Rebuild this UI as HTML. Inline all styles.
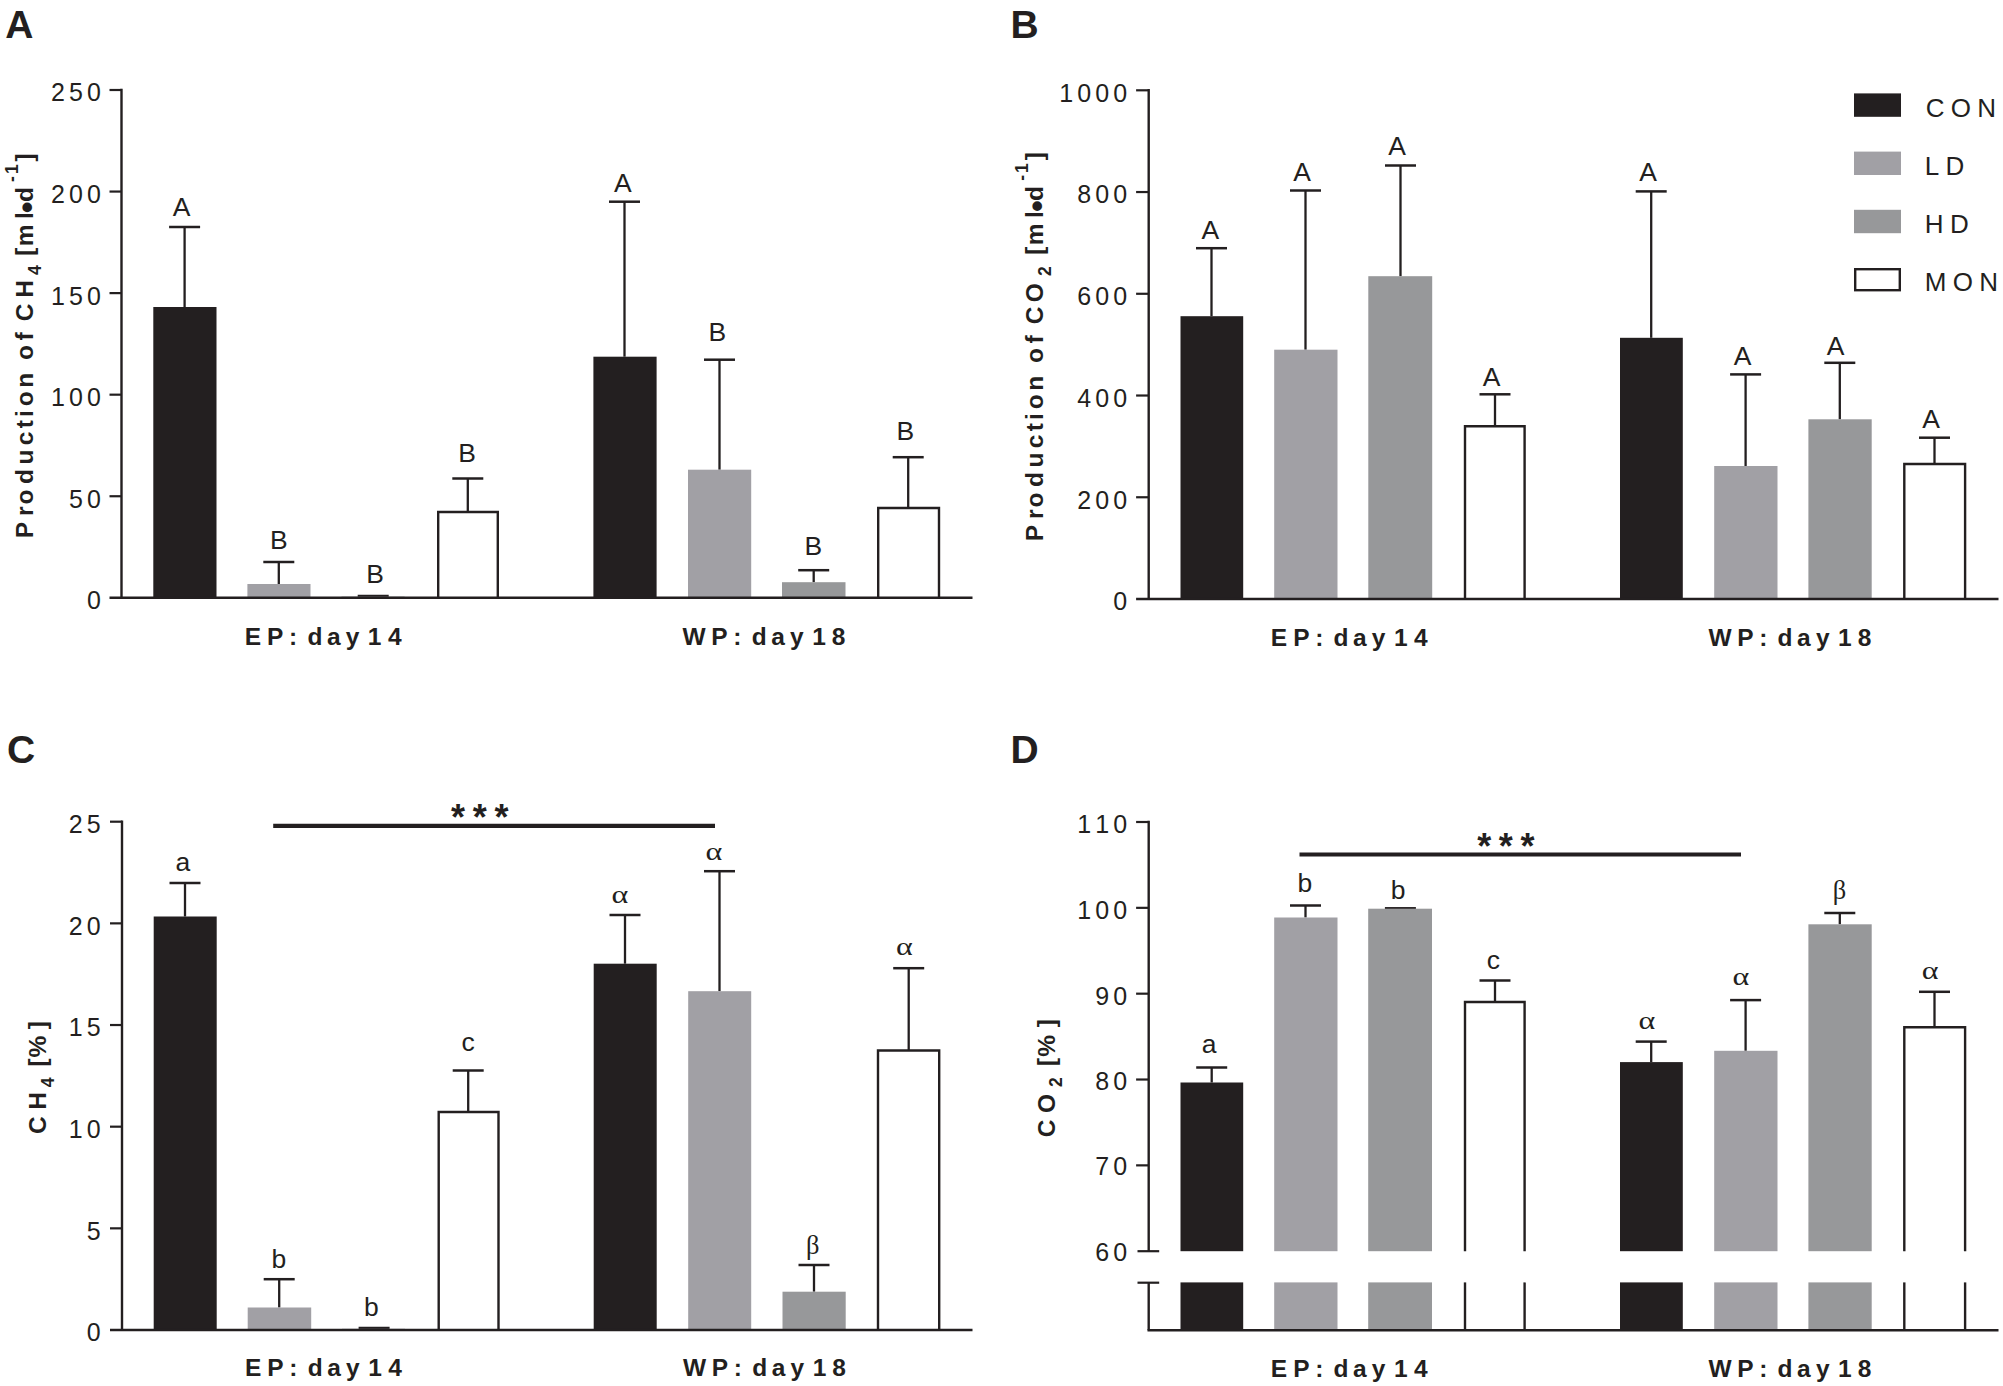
<!DOCTYPE html>
<html lang="en">
<head>
<meta charset="utf-8">
<title>Gas production and composition</title>
<style>
html,body{margin:0;padding:0;background:#fff}
body{width:2003px;height:1386px;overflow:hidden}
svg{display:block;font-family:"Liberation Sans",sans-serif;font-kerning:none}
</style>
</head>
<body>
<svg width="2003" height="1386" viewBox="0 0 2003 1386" fill="#231f20" stroke="#231f20" stroke-linecap="butt">
<rect stroke="none" x="0" y="0" width="2003" height="1386" fill="#fff"/>
<g>
<line x1="184.60" y1="227.00" x2="184.60" y2="307.00" stroke-width="2.3"/>
<line x1="169.10" y1="227.00" x2="200.10" y2="227.00" stroke-width="2.5"/>
<rect stroke="none" x="153.30" y="307.00" width="63.20" height="290.80" fill="#231f20"/>
<line x1="278.80" y1="562.00" x2="278.80" y2="584.00" stroke-width="2.3"/>
<line x1="263.30" y1="562.00" x2="294.30" y2="562.00" stroke-width="2.5"/>
<rect stroke="none" x="247.40" y="584.00" width="63.10" height="13.80" fill="#a1a0a5"/>
<line x1="373.20" y1="596.00" x2="373.20" y2="596.60" stroke-width="2.3"/>
<line x1="357.70" y1="596.00" x2="388.70" y2="596.00" stroke-width="2.5"/>
<rect stroke="none" x="341.50" y="596.60" width="63.10" height="1.20" fill="#97989a"/>
<line x1="467.80" y1="478.50" x2="467.80" y2="512.00" stroke-width="2.3"/>
<line x1="452.30" y1="478.50" x2="483.30" y2="478.50" stroke-width="2.5"/>
<path d="M438.20 597.80V512.00H497.80V597.80" fill="#fff" stroke-width="2.4"/>
<line x1="624.50" y1="201.70" x2="624.50" y2="356.70" stroke-width="2.3"/>
<line x1="609.00" y1="201.70" x2="640.00" y2="201.70" stroke-width="2.5"/>
<rect stroke="none" x="593.40" y="356.70" width="63.20" height="241.10" fill="#231f20"/>
<line x1="719.50" y1="359.70" x2="719.50" y2="469.70" stroke-width="2.3"/>
<line x1="704.00" y1="359.70" x2="735.00" y2="359.70" stroke-width="2.5"/>
<rect stroke="none" x="688.00" y="469.70" width="63.20" height="128.10" fill="#a1a0a5"/>
<line x1="813.70" y1="570.20" x2="813.70" y2="582.20" stroke-width="2.3"/>
<line x1="798.20" y1="570.20" x2="829.20" y2="570.20" stroke-width="2.5"/>
<rect stroke="none" x="782.00" y="582.20" width="63.50" height="15.60" fill="#97989a"/>
<line x1="908.20" y1="457.20" x2="908.20" y2="508.00" stroke-width="2.3"/>
<line x1="892.70" y1="457.20" x2="923.70" y2="457.20" stroke-width="2.5"/>
<path d="M878.20 597.80V508.00H939.00V597.80" fill="#fff" stroke-width="2.4"/>
<line x1="121.50" y1="88.80" x2="121.50" y2="597.80" stroke-width="2.4"/>
<line x1="109.50" y1="597.80" x2="972.50" y2="597.80" stroke-width="2.6"/>
<line x1="109.50" y1="90.00" x2="121.50" y2="90.00" stroke-width="2.1999999999999997"/>
<line x1="109.50" y1="191.56" x2="121.50" y2="191.56" stroke-width="2.1999999999999997"/>
<line x1="109.50" y1="293.12" x2="121.50" y2="293.12" stroke-width="2.1999999999999997"/>
<line x1="109.50" y1="394.68" x2="121.50" y2="394.68" stroke-width="2.1999999999999997"/>
<line x1="109.50" y1="496.24" x2="121.50" y2="496.24" stroke-width="2.1999999999999997"/>
<text stroke="none" x="51.07" y="101.40" font-size="25" letter-spacing="4.10">250</text>
<text stroke="none" x="51.07" y="202.96" font-size="25" letter-spacing="4.10">200</text>
<text stroke="none" x="51.07" y="304.52" font-size="25" letter-spacing="4.10">150</text>
<text stroke="none" x="51.07" y="406.08" font-size="25" letter-spacing="4.10">100</text>
<text stroke="none" x="69.07" y="507.64" font-size="25" letter-spacing="4.10">50</text>
<text stroke="none" x="87.08" y="609.20" font-size="25">0</text>
<text stroke="none" x="172.76" y="215.80" font-size="26.5">A</text>
<text stroke="none" x="270.08" y="548.50" font-size="26.5">B</text>
<text stroke="none" x="366.18" y="582.70" font-size="26.5">B</text>
<text stroke="none" x="458.28" y="462.00" font-size="26.5">B</text>
<text stroke="none" x="614.06" y="192.30" font-size="26.5">A</text>
<text stroke="none" x="708.48" y="341.00" font-size="26.5">B</text>
<text stroke="none" x="804.58" y="554.70" font-size="26.5">B</text>
<text stroke="none" x="896.58" y="439.70" font-size="26.5">B</text>
<text stroke="none" x="244.76 267.06 289.05 300.48 307.40 326.89 345.70 359.87 367.86 387.93" y="645.20" font-size="24.5" font-weight="700">EP: day 14</text>
<text stroke="none" x="682.48 711.36 733.35 744.78 751.70 771.19 790.00 804.17 812.16 831.82" y="645.20" font-size="24.5" font-weight="700">WP: day 18</text>
<text stroke="none" x="5.32" y="37.50" font-size="39" font-weight="700">A</text>
<g transform="translate(33.00 536.70) rotate(-90)">
<text stroke="none" x="-1.64 20.68 32.24 52.60 72.08 91.54 108.41 119.69 130.54 148.88 163.72 176.74 196.28 207.71 215.40 238.86" y="0.00" font-size="24.5" font-weight="700">Production of CH</text>
<text stroke="none" x="261.64" y="7.60" font-size="17.5" font-weight="700">4</text>
<text stroke="none" x="280.93 290.38 317.69" y="0.00" font-size="24.5" font-weight="700">[ml</text>
<text stroke="none" x="323.53" y="4.50" font-size="33.5" font-weight="700">•</text>
<text stroke="none" x="334.70" y="0.00" font-size="24.5" font-weight="700">d</text>
<text stroke="none" x="354.82 362.70" y="-15.20" font-size="17.5" font-weight="700">-1</text>
<text stroke="none" x="375.31" y="0.00" font-size="24.5" font-weight="700">]</text>
</g>
<line x1="1211.50" y1="248.20" x2="1211.50" y2="316.20" stroke-width="2.3"/>
<line x1="1196.00" y1="248.20" x2="1227.00" y2="248.20" stroke-width="2.5"/>
<rect stroke="none" x="1180.50" y="316.20" width="62.70" height="282.80" fill="#231f20"/>
<line x1="1305.50" y1="190.50" x2="1305.50" y2="349.70" stroke-width="2.3"/>
<line x1="1290.00" y1="190.50" x2="1321.00" y2="190.50" stroke-width="2.5"/>
<rect stroke="none" x="1274.20" y="349.70" width="63.30" height="249.30" fill="#a1a0a5"/>
<line x1="1400.50" y1="165.50" x2="1400.50" y2="276.20" stroke-width="2.3"/>
<line x1="1385.00" y1="165.50" x2="1416.00" y2="165.50" stroke-width="2.5"/>
<rect stroke="none" x="1368.30" y="276.20" width="63.90" height="322.80" fill="#97989a"/>
<line x1="1495.00" y1="394.30" x2="1495.00" y2="426.20" stroke-width="2.3"/>
<line x1="1479.50" y1="394.30" x2="1510.50" y2="394.30" stroke-width="2.5"/>
<path d="M1465.00 599.00V426.20H1524.60V599.00" fill="#fff" stroke-width="2.4"/>
<line x1="1651.20" y1="191.40" x2="1651.20" y2="337.80" stroke-width="2.3"/>
<line x1="1635.70" y1="191.40" x2="1666.70" y2="191.40" stroke-width="2.5"/>
<rect stroke="none" x="1620.00" y="337.80" width="62.80" height="261.20" fill="#231f20"/>
<line x1="1745.60" y1="374.40" x2="1745.60" y2="466.00" stroke-width="2.3"/>
<line x1="1730.10" y1="374.40" x2="1761.10" y2="374.40" stroke-width="2.5"/>
<rect stroke="none" x="1714.20" y="466.00" width="63.30" height="133.00" fill="#a1a0a5"/>
<line x1="1839.80" y1="362.80" x2="1839.80" y2="419.30" stroke-width="2.3"/>
<line x1="1824.30" y1="362.80" x2="1855.30" y2="362.80" stroke-width="2.5"/>
<rect stroke="none" x="1808.40" y="419.30" width="63.30" height="179.70" fill="#97989a"/>
<line x1="1934.50" y1="437.70" x2="1934.50" y2="464.00" stroke-width="2.3"/>
<line x1="1919.00" y1="437.70" x2="1950.00" y2="437.70" stroke-width="2.5"/>
<path d="M1904.30 599.00V464.00H1965.10V599.00" fill="#fff" stroke-width="2.4"/>
<line x1="1148.70" y1="89.10" x2="1148.70" y2="599.00" stroke-width="2.4"/>
<line x1="1136.10" y1="599.00" x2="1998.50" y2="599.00" stroke-width="2.6"/>
<line x1="1136.10" y1="90.30" x2="1148.70" y2="90.30" stroke-width="2.1999999999999997"/>
<line x1="1136.10" y1="192.04" x2="1148.70" y2="192.04" stroke-width="2.1999999999999997"/>
<line x1="1136.10" y1="293.78" x2="1148.70" y2="293.78" stroke-width="2.1999999999999997"/>
<line x1="1136.10" y1="395.52" x2="1148.70" y2="395.52" stroke-width="2.1999999999999997"/>
<line x1="1136.10" y1="497.26" x2="1148.70" y2="497.26" stroke-width="2.1999999999999997"/>
<text stroke="none" x="1059.26" y="101.70" font-size="25" letter-spacing="4.10">1000</text>
<text stroke="none" x="1077.27" y="203.44" font-size="25" letter-spacing="4.10">800</text>
<text stroke="none" x="1077.27" y="305.18" font-size="25" letter-spacing="4.10">600</text>
<text stroke="none" x="1077.27" y="406.92" font-size="25" letter-spacing="4.10">400</text>
<text stroke="none" x="1077.27" y="508.66" font-size="25" letter-spacing="4.10">200</text>
<text stroke="none" x="1113.28" y="610.40" font-size="25">0</text>
<text stroke="none" x="1201.46" y="238.70" font-size="26.5">A</text>
<text stroke="none" x="1293.36" y="180.70" font-size="26.5">A</text>
<text stroke="none" x="1388.36" y="154.50" font-size="26.5">A</text>
<text stroke="none" x="1482.66" y="386.00" font-size="26.5">A</text>
<text stroke="none" x="1639.16" y="180.80" font-size="26.5">A</text>
<text stroke="none" x="1733.86" y="364.80" font-size="26.5">A</text>
<text stroke="none" x="1826.76" y="354.80" font-size="26.5">A</text>
<text stroke="none" x="1922.16" y="428.40" font-size="26.5">A</text>
<text stroke="none" x="1270.86 1293.16 1315.15 1326.58 1333.50 1352.99 1371.80 1385.97 1393.96 1414.03" y="646.30" font-size="24.5" font-weight="700">EP: day 14</text>
<text stroke="none" x="1708.38 1737.26 1759.25 1770.68 1777.60 1797.09 1815.90 1830.07 1838.06 1857.72" y="645.80" font-size="24.5" font-weight="700">WP: day 18</text>
<text stroke="none" x="1010.39" y="37.50" font-size="39" font-weight="700">B</text>
<g transform="translate(1043.30 539.70) rotate(-90)">
<text stroke="none" x="-1.64 20.68 32.24 52.60 72.08 91.54 108.41 119.69 130.54 148.88 163.72 176.74 196.28 207.71 215.40 237.50" y="0.00" font-size="24.5" font-weight="700">Production of CO</text>
<text stroke="none" x="263.79" y="7.60" font-size="17.5" font-weight="700">2</text>
<text stroke="none" x="285.03 294.48 321.79" y="0.00" font-size="24.5" font-weight="700">[ml</text>
<text stroke="none" x="327.63" y="4.50" font-size="33.5" font-weight="700">•</text>
<text stroke="none" x="338.80" y="0.00" font-size="24.5" font-weight="700">d</text>
<text stroke="none" x="358.92 366.80" y="-15.20" font-size="17.5" font-weight="700">-1</text>
<text stroke="none" x="379.41" y="0.00" font-size="24.5" font-weight="700">]</text>
</g>
<rect stroke="none" x="1854.00" y="93.40" width="47.00" height="23.40" fill="#231f20"/>
<text stroke="none" x="1925.67" y="116.70" font-size="26" letter-spacing="6.30">CON</text>
<rect stroke="none" x="1854.00" y="151.60" width="47.00" height="23.40" fill="#a1a0a5"/>
<text stroke="none" x="1924.87" y="174.90" font-size="26" letter-spacing="6.30">LD</text>
<rect stroke="none" x="1854.00" y="209.80" width="47.00" height="23.40" fill="#97989a"/>
<text stroke="none" x="1924.87" y="233.10" font-size="26" letter-spacing="6.30">HD</text>
<rect x="1855.2" y="269.20" width="44.6" height="21" fill="#fff" stroke-width="2.4"/>
<text stroke="none" x="1924.87" y="291.30" font-size="26" letter-spacing="6.30">MON</text>
<line x1="185.00" y1="883.00" x2="185.00" y2="916.50" stroke-width="2.3"/>
<line x1="169.50" y1="883.00" x2="200.50" y2="883.00" stroke-width="2.5"/>
<rect stroke="none" x="153.70" y="916.50" width="63.00" height="413.50" fill="#231f20"/>
<line x1="279.20" y1="1279.20" x2="279.20" y2="1307.50" stroke-width="2.3"/>
<line x1="263.70" y1="1279.20" x2="294.70" y2="1279.20" stroke-width="2.5"/>
<rect stroke="none" x="247.70" y="1307.50" width="63.50" height="22.50" fill="#a1a0a5"/>
<line x1="374.10" y1="1328.00" x2="374.10" y2="1328.80" stroke-width="2.3"/>
<line x1="358.60" y1="1328.00" x2="389.60" y2="1328.00" stroke-width="2.5"/>
<rect stroke="none" x="342.00" y="1328.80" width="63.00" height="1.20" fill="#97989a"/>
<line x1="468.20" y1="1070.50" x2="468.20" y2="1112.00" stroke-width="2.3"/>
<line x1="452.70" y1="1070.50" x2="483.70" y2="1070.50" stroke-width="2.5"/>
<path d="M438.70 1330.00V1112.00H498.50V1330.00" fill="#fff" stroke-width="2.4"/>
<line x1="625.00" y1="915.00" x2="625.00" y2="963.70" stroke-width="2.3"/>
<line x1="609.50" y1="915.00" x2="640.50" y2="915.00" stroke-width="2.5"/>
<rect stroke="none" x="593.70" y="963.70" width="63.00" height="366.30" fill="#231f20"/>
<line x1="719.50" y1="871.20" x2="719.50" y2="991.20" stroke-width="2.3"/>
<line x1="704.00" y1="871.20" x2="735.00" y2="871.20" stroke-width="2.5"/>
<rect stroke="none" x="688.20" y="991.20" width="63.00" height="338.80" fill="#a1a0a5"/>
<line x1="814.00" y1="1265.00" x2="814.00" y2="1291.70" stroke-width="2.3"/>
<line x1="798.50" y1="1265.00" x2="829.50" y2="1265.00" stroke-width="2.5"/>
<rect stroke="none" x="782.50" y="1291.70" width="63.20" height="38.30" fill="#97989a"/>
<line x1="908.70" y1="968.20" x2="908.70" y2="1050.50" stroke-width="2.3"/>
<line x1="893.20" y1="968.20" x2="924.20" y2="968.20" stroke-width="2.5"/>
<path d="M878.00 1330.00V1050.50H939.20V1330.00" fill="#fff" stroke-width="2.4"/>
<line x1="122.00" y1="820.50" x2="122.00" y2="1330.00" stroke-width="2.4"/>
<line x1="110.00" y1="1330.00" x2="972.50" y2="1330.00" stroke-width="2.6"/>
<line x1="110.00" y1="821.70" x2="122.00" y2="821.70" stroke-width="2.1999999999999997"/>
<line x1="110.00" y1="923.36" x2="122.00" y2="923.36" stroke-width="2.1999999999999997"/>
<line x1="110.00" y1="1025.02" x2="122.00" y2="1025.02" stroke-width="2.1999999999999997"/>
<line x1="110.00" y1="1126.68" x2="122.00" y2="1126.68" stroke-width="2.1999999999999997"/>
<line x1="110.00" y1="1228.34" x2="122.00" y2="1228.34" stroke-width="2.1999999999999997"/>
<text stroke="none" x="68.85" y="833.10" font-size="25" letter-spacing="4.10">25</text>
<text stroke="none" x="68.77" y="934.76" font-size="25" letter-spacing="4.10">20</text>
<text stroke="none" x="68.85" y="1036.42" font-size="25" letter-spacing="4.10">15</text>
<text stroke="none" x="68.77" y="1138.08" font-size="25" letter-spacing="4.10">10</text>
<text stroke="none" x="86.85" y="1239.74" font-size="25">5</text>
<text stroke="none" x="86.78" y="1341.40" font-size="25">0</text>
<text stroke="none" x="175.58" y="870.50" font-size="26.5">a</text>
<text stroke="none" x="271.44" y="1268.00" font-size="26.5">b</text>
<text stroke="none" x="363.94" y="1315.70" font-size="26.5">b</text>
<text stroke="none" x="461.46" y="1051.00" font-size="26.5">c</text>
<text stroke="none" transform="translate(620.20 903.00) scale(1.28 1.0)" x="-6.74" y="0" font-size="25" font-family="Liberation Serif, serif">α</text>
<text stroke="none" transform="translate(714.20 860.00) scale(1.28 1.0)" x="-6.74" y="0" font-size="25" font-family="Liberation Serif, serif">α</text>
<text stroke="none" transform="translate(813.10 1254.40) scale(1.06 1.09)" x="-6.62" y="0" font-size="25" font-family="Liberation Serif, serif">β</text>
<text stroke="none" transform="translate(904.70 955.00) scale(1.28 1.0)" x="-6.74" y="0" font-size="25" font-family="Liberation Serif, serif">α</text>
<line x1="273.20" y1="825.80" x2="715.00" y2="825.80" stroke-width="4.2"/>
<text stroke="none" x="450.89" y="830.37" font-size="36" font-weight="700" letter-spacing="7.76">***</text>
<text stroke="none" x="245.06 267.36 289.35 300.78 307.70 327.19 346.00 360.17 368.16 388.23" y="1376.00" font-size="24.5" font-weight="700">EP: day 14</text>
<text stroke="none" x="682.98 711.86 733.85 745.28 752.20 771.69 790.50 804.67 812.66 832.32" y="1375.80" font-size="24.5" font-weight="700">WP: day 18</text>
<text stroke="none" x="7.10" y="763.00" font-size="39" font-weight="700">C</text>
<g transform="translate(46.00 1132.90) rotate(-90)">
<text stroke="none" x="-1.00 23.06" y="0.00" font-size="24.5" font-weight="700">CH</text>
<text stroke="none" x="45.74" y="7.80" font-size="17.5" font-weight="700">4</text>
<text stroke="none" x="66.33 75.49 103.61" y="0.00" font-size="24.5" font-weight="700">[%]</text>
</g>
<line x1="1211.70" y1="1067.50" x2="1211.70" y2="1082.50" stroke-width="2.3"/>
<line x1="1196.20" y1="1067.50" x2="1227.20" y2="1067.50" stroke-width="2.5"/>
<rect stroke="none" x="1180.50" y="1082.50" width="62.70" height="168.70" fill="#231f20"/>
<rect stroke="none" x="1180.50" y="1282.40" width="62.70" height="47.90" fill="#231f20"/>
<line x1="1305.50" y1="905.50" x2="1305.50" y2="917.50" stroke-width="2.3"/>
<line x1="1290.00" y1="905.50" x2="1321.00" y2="905.50" stroke-width="2.5"/>
<rect stroke="none" x="1274.20" y="917.50" width="63.30" height="333.70" fill="#a1a0a5"/>
<rect stroke="none" x="1274.20" y="1282.40" width="63.30" height="47.90" fill="#a1a0a5"/>
<line x1="1400.40" y1="908.30" x2="1400.40" y2="908.70" stroke-width="2.3"/>
<line x1="1384.90" y1="908.30" x2="1415.90" y2="908.30" stroke-width="2.5"/>
<rect stroke="none" x="1368.20" y="908.70" width="63.80" height="342.50" fill="#97989a"/>
<rect stroke="none" x="1368.20" y="1282.40" width="63.80" height="47.90" fill="#97989a"/>
<line x1="1495.00" y1="980.50" x2="1495.00" y2="1002.00" stroke-width="2.3"/>
<line x1="1479.50" y1="980.50" x2="1510.50" y2="980.50" stroke-width="2.5"/>
<path d="M1465.00 1251.20V1002.00H1524.60V1251.20" fill="#fff" stroke-width="2.4"/>
<line x1="1465.00" y1="1282.40" x2="1465.00" y2="1330.30" stroke-width="2.4"/>
<line x1="1524.60" y1="1282.40" x2="1524.60" y2="1330.30" stroke-width="2.4"/>
<line x1="1651.20" y1="1041.60" x2="1651.20" y2="1062.10" stroke-width="2.3"/>
<line x1="1635.70" y1="1041.60" x2="1666.70" y2="1041.60" stroke-width="2.5"/>
<rect stroke="none" x="1620.00" y="1062.10" width="62.80" height="189.10" fill="#231f20"/>
<rect stroke="none" x="1620.00" y="1282.40" width="62.80" height="47.90" fill="#231f20"/>
<line x1="1745.60" y1="1000.10" x2="1745.60" y2="1050.80" stroke-width="2.3"/>
<line x1="1730.10" y1="1000.10" x2="1761.10" y2="1000.10" stroke-width="2.5"/>
<rect stroke="none" x="1714.20" y="1050.80" width="63.30" height="200.40" fill="#a1a0a5"/>
<rect stroke="none" x="1714.20" y="1282.40" width="63.30" height="47.90" fill="#a1a0a5"/>
<line x1="1839.80" y1="913.00" x2="1839.80" y2="924.30" stroke-width="2.3"/>
<line x1="1824.30" y1="913.00" x2="1855.30" y2="913.00" stroke-width="2.5"/>
<rect stroke="none" x="1808.40" y="924.30" width="63.30" height="326.90" fill="#97989a"/>
<rect stroke="none" x="1808.40" y="1282.40" width="63.30" height="47.90" fill="#97989a"/>
<line x1="1934.50" y1="991.80" x2="1934.50" y2="1027.20" stroke-width="2.3"/>
<line x1="1919.00" y1="991.80" x2="1950.00" y2="991.80" stroke-width="2.5"/>
<path d="M1904.30 1251.20V1027.20H1965.10V1251.20" fill="#fff" stroke-width="2.4"/>
<line x1="1904.30" y1="1282.40" x2="1904.30" y2="1330.30" stroke-width="2.4"/>
<line x1="1965.10" y1="1282.40" x2="1965.10" y2="1330.30" stroke-width="2.4"/>
<line x1="1148.70" y1="820.80" x2="1148.70" y2="1251.20" stroke-width="2.4"/>
<line x1="1148.70" y1="1282.70" x2="1148.70" y2="1330.30" stroke-width="2.4"/>
<line x1="1137.50" y1="1251.20" x2="1159.20" y2="1251.20" stroke-width="2.1999999999999997"/>
<line x1="1137.50" y1="1282.70" x2="1159.20" y2="1282.70" stroke-width="2.1999999999999997"/>
<line x1="1147.50" y1="1330.30" x2="1998.50" y2="1330.30" stroke-width="2.6"/>
<line x1="1136.10" y1="822.00" x2="1148.70" y2="822.00" stroke-width="2.1999999999999997"/>
<line x1="1136.10" y1="907.84" x2="1148.70" y2="907.84" stroke-width="2.1999999999999997"/>
<line x1="1136.10" y1="993.68" x2="1148.70" y2="993.68" stroke-width="2.1999999999999997"/>
<line x1="1136.10" y1="1079.52" x2="1148.70" y2="1079.52" stroke-width="2.1999999999999997"/>
<line x1="1136.10" y1="1165.36" x2="1148.70" y2="1165.36" stroke-width="2.1999999999999997"/>
<text stroke="none" x="1077.27" y="833.40" font-size="25" letter-spacing="4.10">110</text>
<text stroke="none" x="1077.27" y="919.24" font-size="25" letter-spacing="4.10">100</text>
<text stroke="none" x="1095.27" y="1005.08" font-size="25" letter-spacing="4.10">90</text>
<text stroke="none" x="1095.27" y="1090.02" font-size="25" letter-spacing="4.10">80</text>
<text stroke="none" x="1095.27" y="1175.46" font-size="25" letter-spacing="4.10">70</text>
<text stroke="none" x="1095.27" y="1260.80" font-size="25" letter-spacing="4.10">60</text>
<text stroke="none" x="1201.68" y="1053.00" font-size="26.5">a</text>
<text stroke="none" x="1297.54" y="892.00" font-size="26.5">b</text>
<text stroke="none" x="1390.84" y="898.70" font-size="26.5">b</text>
<text stroke="none" x="1486.66" y="968.70" font-size="26.5">c</text>
<text stroke="none" transform="translate(1647.20 1029.00) scale(1.28 1.0)" x="-6.74" y="0" font-size="25" font-family="Liberation Serif, serif">α</text>
<text stroke="none" transform="translate(1741.20 985.00) scale(1.28 1.0)" x="-6.74" y="0" font-size="25" font-family="Liberation Serif, serif">α</text>
<text stroke="none" transform="translate(1839.70 899.10) scale(1.06 1.09)" x="-6.62" y="0" font-size="25" font-family="Liberation Serif, serif">β</text>
<text stroke="none" transform="translate(1930.40 978.80) scale(1.28 1.0)" x="-6.74" y="0" font-size="25" font-family="Liberation Serif, serif">α</text>
<line x1="1299.50" y1="854.50" x2="1741.00" y2="854.50" stroke-width="4.2"/>
<text stroke="none" x="1477.19" y="859.17" font-size="36" font-weight="700" letter-spacing="7.66">***</text>
<text stroke="none" x="1270.86 1293.16 1315.15 1326.58 1333.50 1352.99 1371.80 1385.97 1393.96 1414.03" y="1377.40" font-size="24.5" font-weight="700">EP: day 14</text>
<text stroke="none" x="1708.38 1737.26 1759.25 1770.68 1777.60 1797.09 1815.90 1830.07 1838.06 1857.72" y="1377.30" font-size="24.5" font-weight="700">WP: day 18</text>
<text stroke="none" x="1010.39" y="763.00" font-size="39" font-weight="700">D</text>
<g transform="translate(1054.50 1136.20) rotate(-90)">
<text stroke="none" x="-1.00 23.20" y="0.00" font-size="24.5" font-weight="700">CO</text>
<text stroke="none" x="49.29" y="7.80" font-size="17.5" font-weight="700">2</text>
<text stroke="none" x="70.23 79.39 109.01" y="0.00" font-size="24.5" font-weight="700">[%]</text>
</g>
</g>
</svg>
</body>
</html>
